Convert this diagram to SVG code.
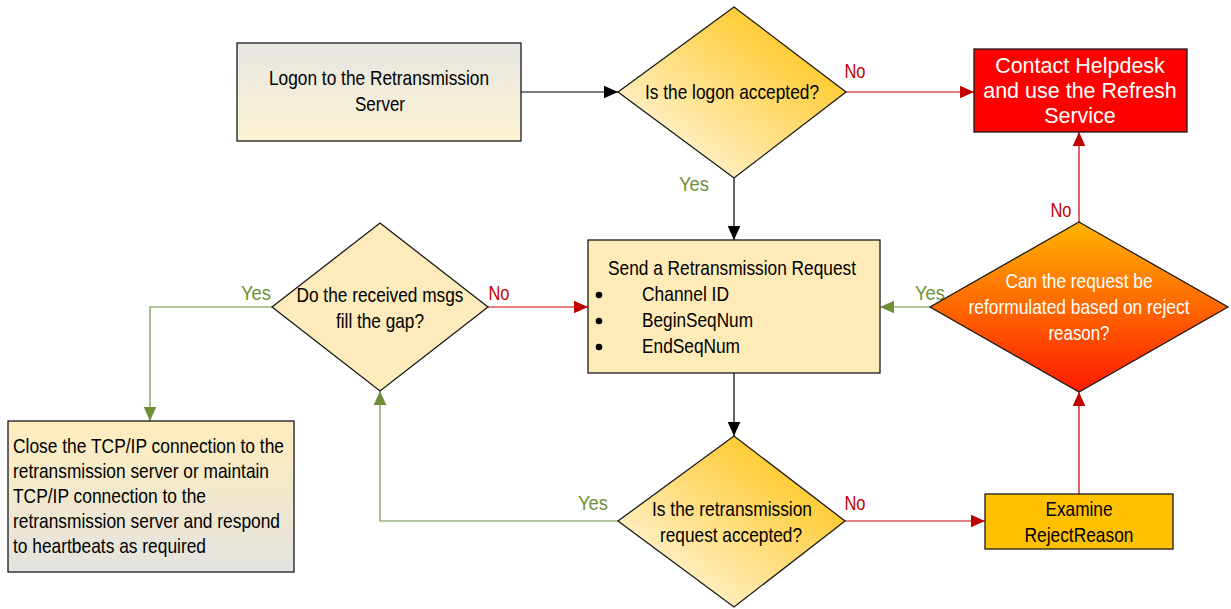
<svg xmlns="http://www.w3.org/2000/svg" width="1231" height="609" viewBox="0 0 1231 609">
<defs>
<linearGradient id="gLogon" x1="0" y1="0" x2="0" y2="1"><stop offset="0" stop-color="#E6E5E1"/><stop offset="1" stop-color="#FDF3D4"/></linearGradient>
<linearGradient id="gClose" x1="0" y1="0" x2="0" y2="1"><stop offset="0" stop-color="#FFEDBC"/><stop offset="1" stop-color="#E4E3E0"/></linearGradient>
<linearGradient id="gDia" x1="0.2" y1="0.8" x2="0.8" y2="0.2"><stop offset="0" stop-color="#FFF0C8"/><stop offset="1" stop-color="#FFCA2C"/></linearGradient>
<linearGradient id="gRed" x1="0" y1="0" x2="0" y2="1"><stop offset="0" stop-color="#FFB400"/><stop offset="1" stop-color="#FF1A00"/></linearGradient>
<marker id="aBlack" viewBox="0 0 10 10" refX="10" refY="5" markerWidth="14" markerHeight="14" markerUnits="userSpaceOnUse" orient="auto"><path d="M0,0.5 L10,5 L0,9.5 z" fill="#000"/></marker>
<marker id="aRed" viewBox="0 0 10 10" refX="10" refY="5" markerWidth="14" markerHeight="14" markerUnits="userSpaceOnUse" orient="auto"><path d="M0,0.5 L10,5 L0,9.5 z" fill="#C00000"/></marker>
<marker id="aGreen" viewBox="0 0 10 10" refX="10" refY="5" markerWidth="14" markerHeight="14" markerUnits="userSpaceOnUse" orient="auto"><path d="M0,0.5 L10,5 L0,9.5 z" fill="#6F8F3A"/></marker>
</defs>
<style>
text{font-family:"Liberation Sans",Arial,sans-serif;font-size:21px;fill:#000}
.c{text-anchor:middle}
.w{fill:#fff}
.big{font-size:21.5px}
.shape{stroke:#1a1a1a;stroke-width:1.3}
.lb{stroke:#000;stroke-width:1.2;fill:none}
.lr{stroke:#C00000;stroke-width:1.2;fill:none}
.lg{stroke:#6F8F3A;stroke-width:1.2;fill:none}
.tr{fill:#C00000}
.tg{fill:#6F8F3A}
</style>

<g id="connectors">
<path class="lb" d="M521,92 H618" marker-end="url(#aBlack)"/>
<path class="lr" d="M846,92 H974" marker-end="url(#aRed)"/>
<path class="lb" d="M734,178 V240" marker-end="url(#aBlack)"/>
<path class="lb" d="M734,373 V436" marker-end="url(#aBlack)"/>
<path class="lr" d="M488,307 H588" marker-end="url(#aRed)"/>
<path class="lg" d="M272,307 H150 V421" marker-end="url(#aGreen)"/>
<path class="lg" d="M618,521 H380 V391" marker-end="url(#aGreen)"/>
<path class="lr" d="M845,521 H985" marker-end="url(#aRed)"/>
<path class="lr" d="M1079,494 V392" marker-end="url(#aRed)"/>
<path class="lg" d="M930,307 H880" marker-end="url(#aGreen)"/>
<path class="lr" d="M1079,222 V132" marker-end="url(#aRed)"/>
<text x="855" y="78" class="c tr" textLength="21" lengthAdjust="spacingAndGlyphs">No</text>
<text x="694" y="191" class="c tg" textLength="30" lengthAdjust="spacingAndGlyphs">Yes</text>
<text x="499" y="300" class="c tr" textLength="21" lengthAdjust="spacingAndGlyphs">No</text>
<text x="256" y="300" class="c tg" textLength="30" lengthAdjust="spacingAndGlyphs">Yes</text>
<text x="930" y="300" class="c tg" textLength="30" lengthAdjust="spacingAndGlyphs">Yes</text>
<text x="1061" y="217" class="c tr" textLength="21" lengthAdjust="spacingAndGlyphs">No</text>
<text x="593" y="510" class="c tg" textLength="30" lengthAdjust="spacingAndGlyphs">Yes</text>
<text x="855" y="510" class="c tr" textLength="21" lengthAdjust="spacingAndGlyphs">No</text>
</g>

<g id="logon">
<rect class="shape" x="237" y="43" width="284" height="98" fill="url(#gLogon)"/>
<text x="379" y="85" class="c" textLength="220" lengthAdjust="spacingAndGlyphs">Logon to the Retransmission</text>
<text x="380" y="111" class="c" textLength="50" lengthAdjust="spacingAndGlyphs">Server</text>
</g>

<g id="logon-accepted">
<polygon class="shape" points="734,7 846,92 734,178 618,92" fill="url(#gDia)"/>
<text x="732" y="99" class="c" textLength="174" lengthAdjust="spacingAndGlyphs">Is the logon accepted?</text>
</g>

<g id="helpdesk">
<rect class="shape" x="974" y="49" width="213" height="83" fill="#FF0000"/>
<text x="1080" y="73" class="c w big">Contact Helpdesk</text>
<text x="1080" y="98" class="c w big">and use the Refresh</text>
<text x="1080" y="123" class="c w big">Service</text>
</g>

<g id="send-request">
<rect class="shape" x="588" y="240" width="292" height="133" fill="#FFEBB8"/>
<text x="732" y="275" class="c" textLength="248" lengthAdjust="spacingAndGlyphs">Send a Retransmission Request</text>
<circle cx="599" cy="295" r="3.3"/>
<circle cx="599" cy="321" r="3.3"/>
<circle cx="599" cy="347" r="3.3"/>
<text x="642" y="301" textLength="87" lengthAdjust="spacingAndGlyphs">Channel ID</text>
<text x="642" y="327" textLength="111" lengthAdjust="spacingAndGlyphs">BeginSeqNum</text>
<text x="642" y="353" textLength="98" lengthAdjust="spacingAndGlyphs">EndSeqNum</text>
</g>

<g id="fill-gap">
<polygon class="shape" points="380,223 488,307 380,391 272,307" fill="#FDEBBC"/>
<text x="380" y="302" class="c" textLength="167" lengthAdjust="spacingAndGlyphs">Do the received msgs</text>
<text x="380" y="328" class="c" textLength="88" lengthAdjust="spacingAndGlyphs">fill the gap?</text>
</g>

<g id="close-connection">
<rect class="shape" x="8" y="421" width="286" height="151" fill="url(#gClose)"/>
<text x="13" y="453" textLength="271" lengthAdjust="spacingAndGlyphs">Close the TCP/IP connection to the</text>
<text x="13" y="478" textLength="256" lengthAdjust="spacingAndGlyphs">retransmission server or maintain</text>
<text x="13" y="503" textLength="193" lengthAdjust="spacingAndGlyphs">TCP/IP connection to the</text>
<text x="13" y="528" textLength="267" lengthAdjust="spacingAndGlyphs">retransmission server and respond</text>
<text x="13" y="553" textLength="193" lengthAdjust="spacingAndGlyphs">to heartbeats as required</text>
</g>

<g id="request-accepted">
<polygon class="shape" points="734,436 845,521 734,607 618,521" fill="url(#gDia)"/>
<text x="732" y="516" class="c" textLength="160" lengthAdjust="spacingAndGlyphs">Is the retransmission</text>
<text x="731" y="542" class="c" textLength="142" lengthAdjust="spacingAndGlyphs">request accepted?</text>
</g>

<g id="examine">
<rect class="shape" x="985" y="494" width="188" height="55" fill="#FFC000"/>
<text x="1079" y="516" class="c" textLength="67" lengthAdjust="spacingAndGlyphs">Examine</text>
<text x="1079" y="542" class="c" textLength="109" lengthAdjust="spacingAndGlyphs">RejectReason</text>
</g>

<g id="reformulate">
<polygon class="shape" points="1079,222 1228,307 1079,392 930,307" fill="url(#gRed)"/>
<text x="1079" y="288" class="c w" textLength="147" lengthAdjust="spacingAndGlyphs">Can the request be</text>
<text x="1079" y="314" class="c w" textLength="221" lengthAdjust="spacingAndGlyphs">reformulated based on reject</text>
<text x="1079" y="340" class="c w" textLength="61" lengthAdjust="spacingAndGlyphs">reason?</text>
</g>
</svg>
